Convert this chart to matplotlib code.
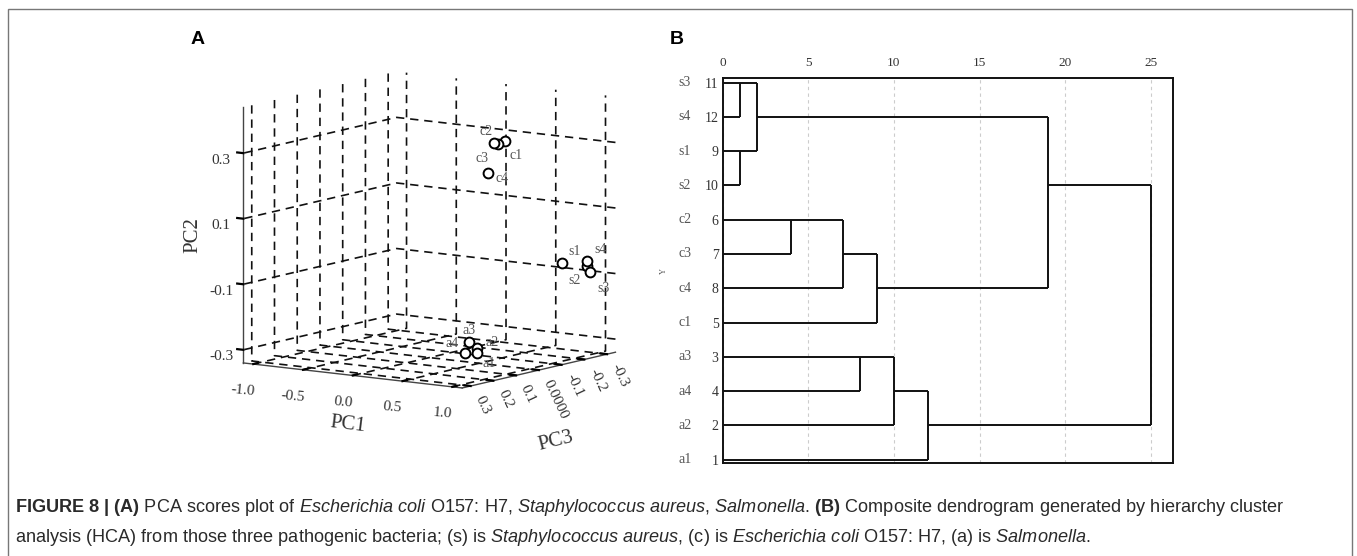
import numpy as np
import matplotlib
matplotlib.use("Agg")
import matplotlib.pyplot as plt
from matplotlib.patches import Rectangle
from mpl_toolkits.mplot3d import proj3d

plt.rcParams['axes.unicode_minus'] = False
plt.rcParams['grid.linestyle'] = (0, (5, 3.5))
plt.rcParams['grid.color'] = '#111111'
plt.rcParams['grid.linewidth'] = 1.2
plt.rcParams['mathtext.fontset'] = 'custom'
plt.rcParams['mathtext.rm'] = 'Liberation Sans'
plt.rcParams['mathtext.it'] = 'Liberation Sans:italic'
plt.rcParams['mathtext.bf'] = 'Liberation Sans:bold'

SERIF = 'Liberation Serif'

# ---- panel A data: PCA scores
pt_labels = ['c1', 'c2', 'c3', 'c4', 's1', 's2', 's3', 's4', 'a1', 'a2', 'a3', 'a4']
pc1 = [0.75, 0.70, 0.72, 0.68, 1.00, 1.00, 1.03, 1.02, 0.48, 0.45, 0.40, 0.38]
pc2 = [0.347, 0.343, 0.339, 0.252, -0.041, -0.068, -0.086, -0.051, -0.311, -0.296, -0.279, -0.312]
pc3 = [-0.004, 0.021, 0.012, 0.039, -0.144, -0.255, -0.256, -0.246, -0.001, -0.014, 0.001, 0.010]
# label offsets in pixels (dx, dy up)
lab_off = [(11, -15), (-8, 11), (-16, -15), (14, -5), (13, 12), (-12, -14), (13, -16), (14, 12),
           (12, -10), (15, 5), (0, 12), (-13, 10)]

pc1_ticks = [-1.0, -0.5, 0.0, 0.5, 1.0]
pc1_ticklabels = ['-1.0', '-0.5', '0.0', '0.5', '1.0']
pc2_ticks = [-0.3, -0.1, 0.1, 0.3]
pc2_ticklabels = ['-0.3', '-0.1', '0.1', '0.3']
pc3_ticks = [0.3, 0.2, 0.1, 0.0, -0.1, -0.2, -0.3]
pc3_ticklabels = ['0.3', '0.2', '0.1', '0.0000', '-0.1', '-0.2', '-0.3']

# ---- panel B data: dendrogram (rows top -> bottom)
leaf_names = ['s3', 's4', 's1', 's2', 'c2', 'c3', 'c4', 'c1', 'a3', 'a4', 'a2', 'a1']
leaf_ids = ['11', '12', '9', '10', '6', '7', '8', '5', '3', '4', '2', '1']
# (node a, node b, rescaled distance); new nodes numbered from 12 on
merges = [(0, 1, 1.0), (2, 3, 1.0), (12, 13, 2.0),
          (4, 5, 4.0), (15, 6, 7.0), (16, 7, 9.0),
          (14, 17, 19.0),
          (8, 9, 8.0), (19, 10, 10.0), (20, 11, 12.0),
          (18, 21, 25.0)]
dist_ticks = [0, 5, 10, 15, 20, 25]

fig = plt.figure(figsize=(13.57, 5.56), dpi=100)

# ================= panel A
ax3 = fig.add_axes([0.112, 0.176, 0.40, 0.80], projection='3d', proj_type='ortho')
ax3.set_facecolor('none')
ax3.view_init(elev=9.4, azim=-55)
ax3.set_box_aspect((1, 1, 0.97), zoom=1.0)
ax3.set_xlim(-1.1, 1.1)
ax3.set_ylim(0.337, -0.337)
ax3.set_zlim(-0.34, 0.44)
for axis in (ax3.xaxis, ax3.yaxis, ax3.zaxis):
    axis.set_pane_color((1, 1, 1, 0))
    axis.pane.set_edgecolor('none')
    axis.line.set_color('#444444')
    axis.line.set_linewidth(1.0)
    axis._axinfo['tick']['inward_factor'] = 0.0
    axis._axinfo['tick']['outward_factor'] = 0.35
    axis._axinfo['tick']['linewidth'] = {True: 1.6, False: 0.5}
ax3.zaxis.set_ticks_position('upper')

ax3.set_xticks(pc1_ticks)
ax3.set_xticklabels(pc1_ticklabels, fontfamily=SERIF, fontsize=11, color='#333333', rotation=-5)
ax3.set_yticks(pc3_ticks)
ax3.set_yticklabels(pc3_ticklabels, fontfamily=SERIF, fontsize=11, color='#333333',
                    rotation=-65, rotation_mode='anchor', ha='left', va='center')
ax3.set_zticks(pc2_ticks)
ax3.set_zticklabels(pc2_ticklabels, fontfamily=SERIF, fontsize=11, color='#333333')
ax3.tick_params(axis='x', pad=3)
ax3.tick_params(axis='y', pad=-2)
ax3.tick_params(axis='z', pad=2)

ax3.scatter(pc1, pc3, pc2, s=50, facecolors='white', edgecolors='black',
            linewidths=1.4, depthshade=False)
M = ax3.get_proj()
px, py, _ = proj3d.proj_transform(np.array(pc1), np.array(pc3), np.array(pc2), M)
for i, lab in enumerate(pt_labels):
    dx, dy = lab_off[i]
    ax3.annotate(lab, (px[i], py[i]), xytext=(dx * 0.72, dy * 0.72), textcoords='offset points',
                 ha='center', va='center', fontfamily=SERIF, fontsize=10, color='#555555')

# axis titles of the 3D panel
fig.text(348 / 1357, 1 - 425 / 556, 'PC1', fontfamily=SERIF, fontsize=15, color='#333333',
         rotation=-7, ha='center', va='center')
fig.text(556 / 1357, 1 - 441 / 556, 'PC3', fontfamily=SERIF, fontsize=15, color='#333333',
         rotation=14, ha='center', va='center')
fig.text(193 / 1357, 1 - 235 / 556, 'PC2', fontfamily=SERIF, fontsize=15, color='#333333',
         rotation=90, ha='center', va='center')

# ================= panel B
axd = fig.add_axes([0.5326, 0.1673, 0.3318, 0.693])
n = len(leaf_names)
row = list(range(n))
height = [0.0] * n
for a, b, h in merges:
    axd.plot([h, h], [row[a], row[b]], color='#111111', lw=1.4, solid_capstyle='butt')
    axd.plot([height[a], h], [row[a], row[a]], color='#111111', lw=1.4, solid_capstyle='butt')
    axd.plot([height[b], h], [row[b], row[b]], color='#111111', lw=1.4, solid_capstyle='butt')
    row.append((row[a] + row[b]) // 2)
    height.append(h)

axd.set_xlim(0, 26.3)
axd.set_ylim(11.1, -0.146)
axd.xaxis.tick_top()
axd.set_xticks(dist_ticks)
axd.set_xticklabels([str(t) for t in dist_ticks], fontfamily=SERIF, fontsize=9.5, color='#333333')
axd.set_yticks(range(n))
axd.set_yticklabels(leaf_ids, fontfamily=SERIF, fontsize=10, color='#333333')
axd.tick_params(axis='x', length=0, pad=6)
axd.tick_params(axis='y', length=0, pad=3)
axd.grid(axis='x', color='#cccccc', linestyle=(0, (3, 3)), linewidth=0.8)
axd.set_axisbelow(True)
for sp in axd.spines.values():
    sp.set_linewidth(1.4)
    sp.set_color('#111111')
for i, nm in enumerate(leaf_names):
    axd.text(-0.084, i, nm, transform=axd.get_yaxis_transform(), ha='center', va='center',
             fontfamily=SERIF, fontsize=10, color='#555555')
axd.set_ylabel('Y', fontfamily=SERIF, fontsize=6, color='#555555')
axd.yaxis.set_label_coords(-0.121, 0.498)

# ================= panel letters, frame, caption
fig.text(198 / 1357, 1 - 40 / 556, 'A', fontsize=14, fontweight='bold', family='Liberation Sans',
         ha='center', va='center')
fig.text(677 / 1357, 1 - 40 / 556, 'B', fontsize=14, fontweight='bold', family='Liberation Sans',
         ha='center', va='center')
fig.add_artist(Rectangle((8 / 1357, -0.02), (1352 - 8) / 1357, 1.02 - 9 / 556,
                         transform=fig.transFigure, fill=False, edgecolor='#777777', lw=1.0))

line1 = (r"$\mathbf{FIGURE\ 8\ |\ (A)}$ PCA scores plot of $\mathit{Escherichia\ coli}$ O157: H7, "
         r"$\mathit{Staphylococcus\ aureus}$, $\mathit{Salmonella}$. $\mathbf{(B)}$ Composite dendrogram "
         r"generated by hierarchy cluster")
line2 = (r"analysis (HCA) from those three pathogenic bacteria; (s) is $\mathit{Staphylococcus\ aureus}$, "
         r"(c) is $\mathit{Escherichia\ coli}$ O157: H7, (a) is $\mathit{Salmonella}$.")
fig.text(15 / 1357, 1 - 508 / 556, line1, fontsize=13.1, family='Liberation Sans', color='#2a2a2a',
         ha='left', va='center')
fig.text(15 / 1357, 1 - 537 / 556, line2, fontsize=13.1, family='Liberation Sans', color='#2a2a2a',
         ha='left', va='center')

fig.savefig('out.png', dpi=100)
